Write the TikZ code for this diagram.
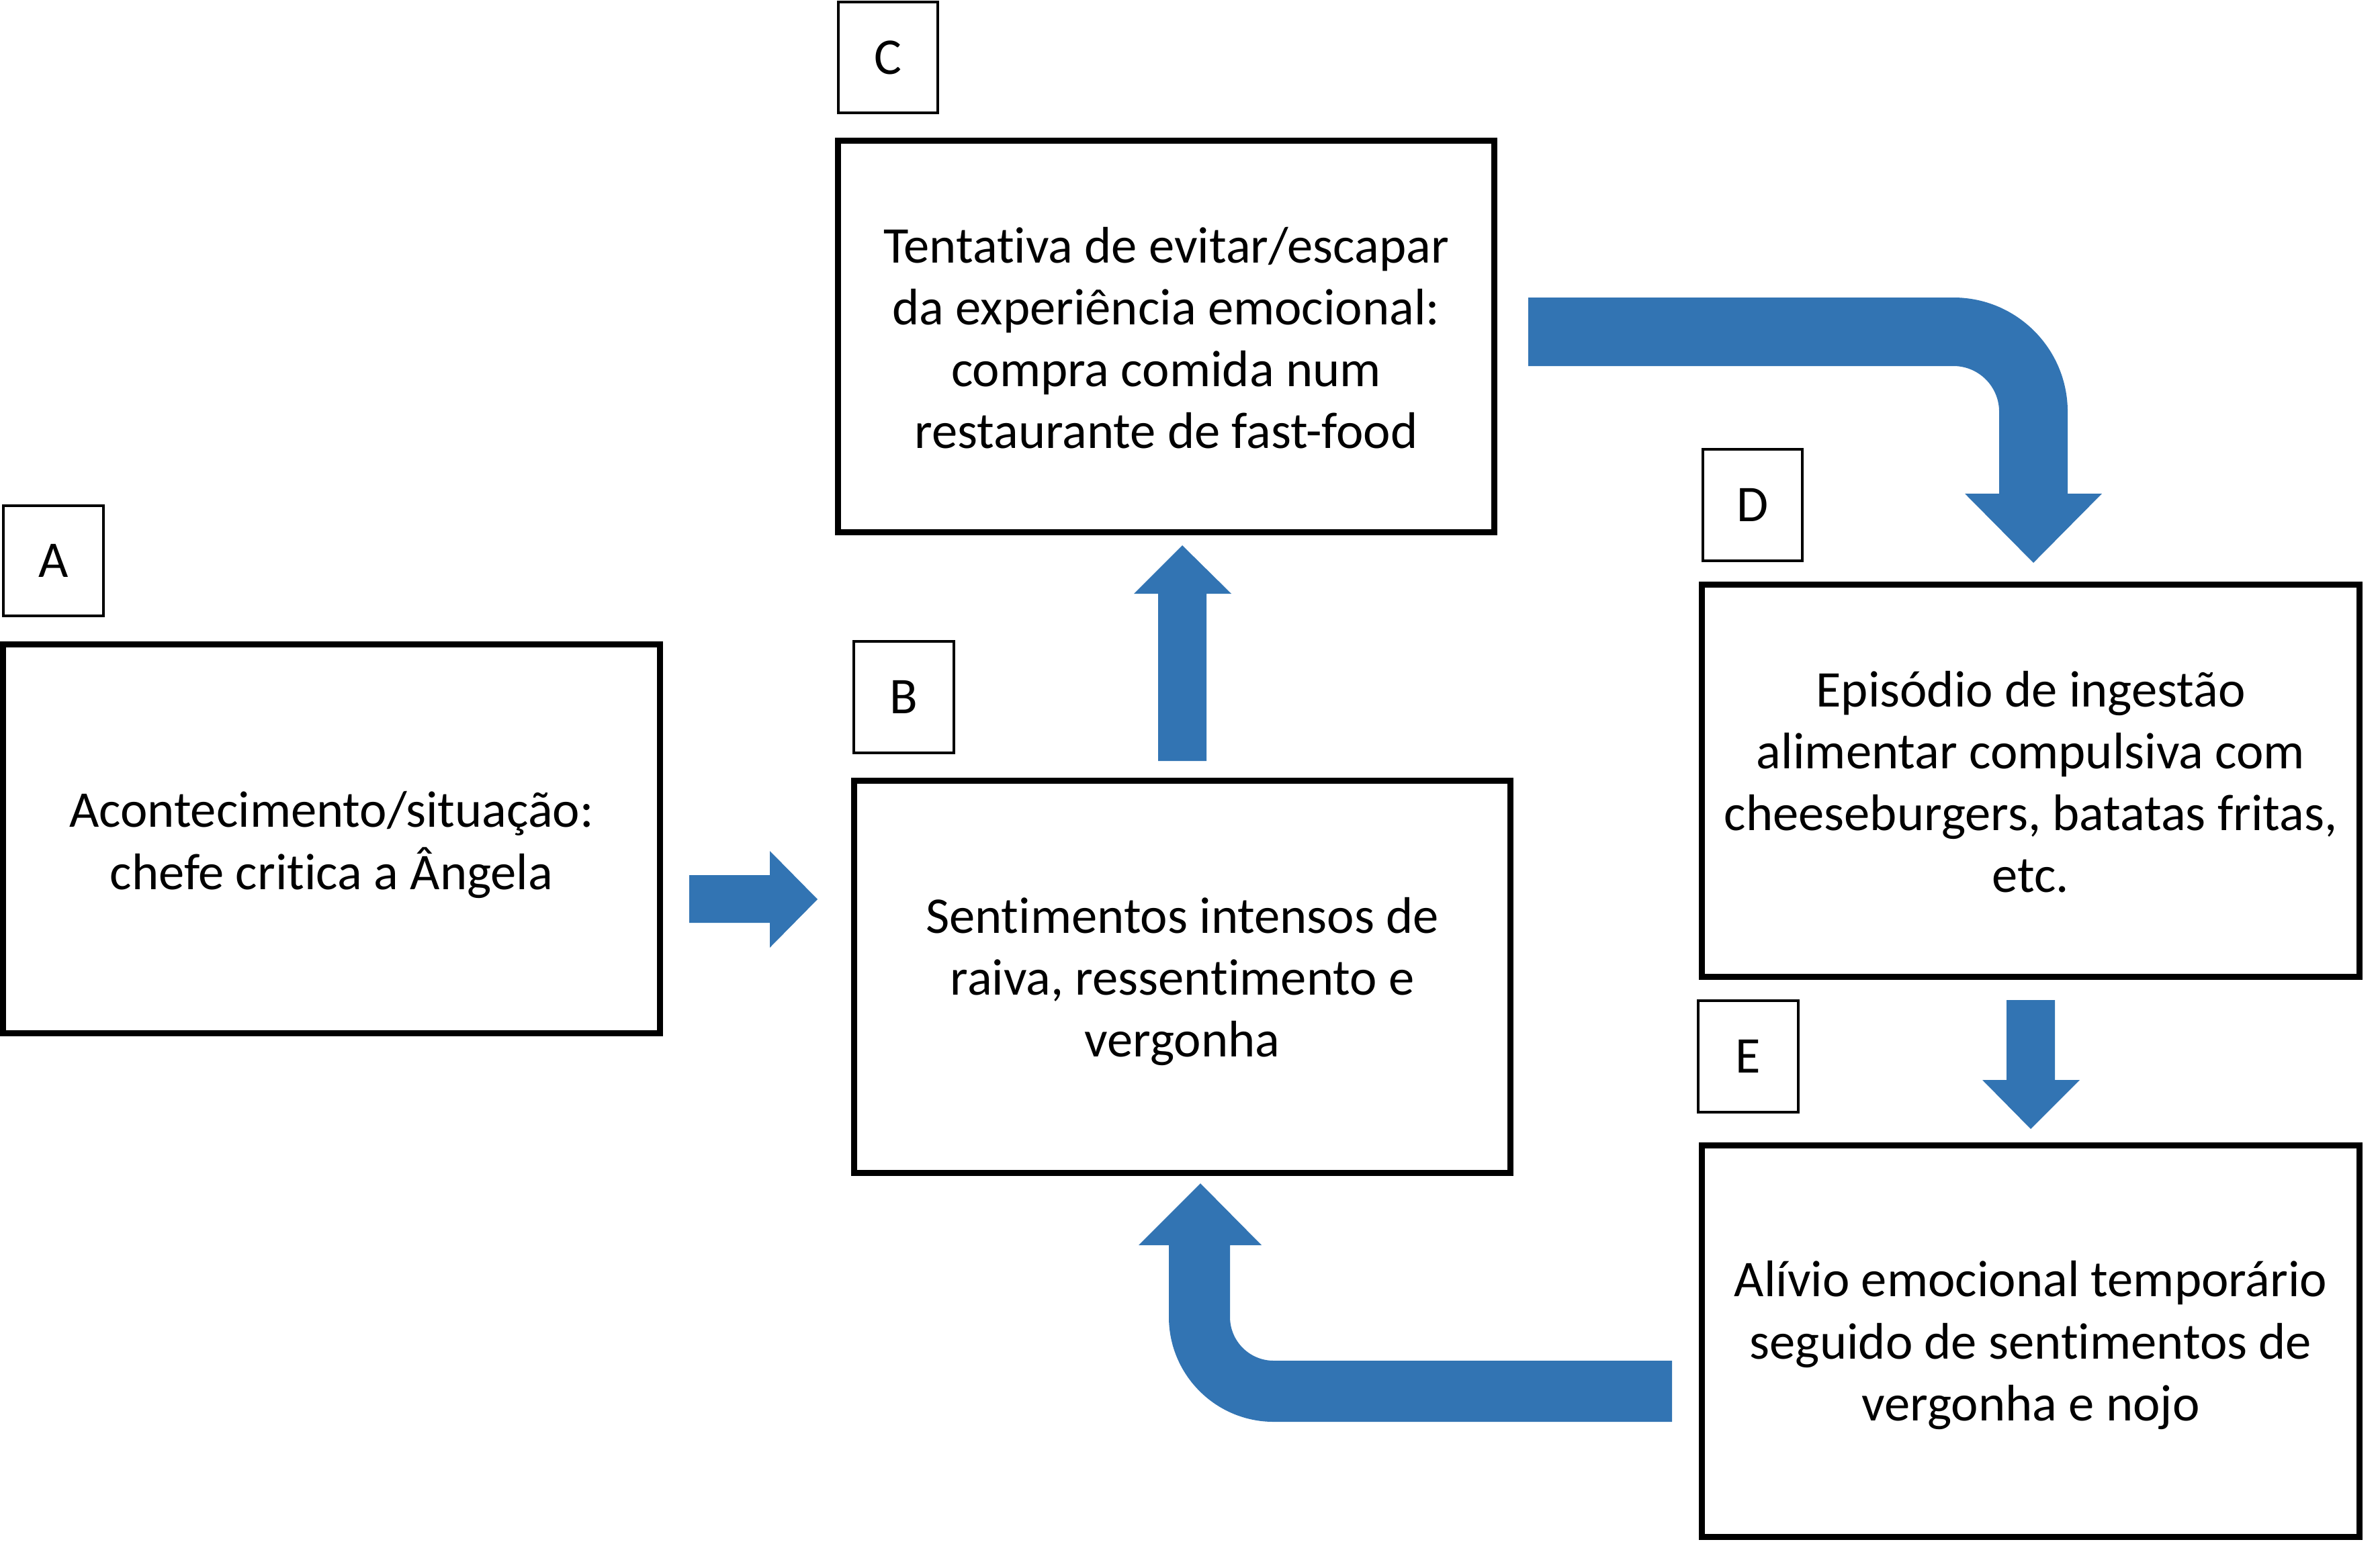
\documentclass[tikz,border=0pt]{standalone}
\usepackage{fontspec}
\setmainfont{Carlito}[Ligatures=NoCommon]
\definecolor{arrowblue}{RGB}{50,116,179}
\begin{document}
\begin{tikzpicture}[
  mainbox/.style={draw=black, line width=0.09cm, fill=white, inner sep=0pt},
  boxtext/.style={align=center, inner sep=0pt, font=\fontsize{21.8}{26.2}\selectfont},
  tagbox/.style={draw=black, line width=0.04cm, fill=white, inner sep=0pt,
    font=\fontsize{21.8}{26.2}\selectfont},
  blockarrow/.style={fill=arrowblue, draw=none}
]
\useasboundingbox (0,0) rectangle (35.43,-22.95);
% main boxes
\node[mainbox, minimum width=9.78cm, minimum height=5.79cm] (A) at (4.935,-12.49) {};
\node[mainbox, minimum width=9.77cm, minimum height=5.84cm] (B) at (17.60,-14.545) {};
\node[mainbox, minimum width=9.77cm, minimum height=5.83cm] (C) at (17.36,-5.01) {};
\node[mainbox, minimum width=9.79cm, minimum height=5.84cm] (D) at (30.23,-11.625) {};
\node[mainbox, minimum width=9.79cm, minimum height=5.83cm] (E) at (30.23,-19.97) {};
% texts
\node[boxtext, yshift=-0.09cm] (Atext) at (A) {Acontecimento/situação:\\chefe critica a Ângela};
\node[boxtext, yshift=-0.07cm] (Btext) at (B) {Sentimentos intensos de\\raiva, ressentimento e\\vergonha};
\node[boxtext, yshift=-0.02cm] (Ctext) at (C) {Tentativa de evitar/escapar\\da experiência emocional:\\compra comida num\\restaurante de fast-food};
\node[boxtext, yshift=-0.02cm] (Dtext) at (D) {Episódio de ingestão\\alimentar compulsiva com\\cheeseburgers, batatas fritas,\\etc.};
\node[boxtext, yshift=-0.06cm] (Etext) at (E) {Alívio emocional temporário\\seguido de sentimentos de\\vergonha e nojo};
% tag boxes
\node[tagbox, minimum width=1.49cm, minimum height=1.64cm] (tA) at (0.795,-8.35) {A};
\node[tagbox, minimum width=1.49cm, minimum height=1.66cm] (tB) at (13.455,-10.38) {B};
\node[tagbox, minimum width=1.48cm, minimum height=1.65cm] (tC) at (13.22,-0.855) {C};
\node[tagbox, minimum width=1.48cm, minimum height=1.66cm] (tD) at (26.09,-7.52) {D};
\node[tagbox, minimum width=1.49cm, minimum height=1.66cm] (tE) at (26.025,-15.73) {E};
% A -> B
\fill[blockarrow] (10.26,-13.03) -- (11.46,-13.03) -- (11.46,-12.67) -- (12.17,-13.39)
  -- (11.46,-14.11) -- (11.46,-13.74) -- (10.26,-13.74) -- cycle;
% B -> C
\fill[blockarrow] (17.24,-11.33) -- (17.24,-8.84) -- (16.88,-8.84) -- (17.60,-8.12)
  -- (18.33,-8.84) -- (17.96,-8.84) -- (17.96,-11.33) -- cycle;
% C -> D (bent)
\fill[blockarrow] (22.75,-4.43) -- (29.08,-4.43) arc[start angle=90, end angle=0, radius=1.70]
  -- (30.78,-7.35) -- (31.29,-7.35) -- (30.27,-8.38) -- (29.25,-7.35) -- (29.76,-7.35)
  -- (29.76,-6.13) arc[start angle=0, end angle=90, radius=0.68] -- (22.75,-5.45) -- cycle;
% D -> E
\fill[blockarrow] (29.87,-14.89) -- (30.59,-14.89) -- (30.59,-16.08) -- (30.96,-16.08)
  -- (30.23,-16.81) -- (29.51,-16.08) -- (29.87,-16.08) -- cycle;
% E -> B (bent)
\fill[blockarrow] (24.89,-20.26) -- (18.96,-20.26) arc[start angle=270, end angle=180, radius=0.65]
  -- (18.31,-18.54) -- (18.78,-18.54) -- (17.87,-17.62) -- (16.95,-18.54) -- (17.40,-18.54)
  -- (17.40,-19.61) arc[start angle=180, end angle=270, radius=1.56] -- (24.89,-21.17) -- cycle;
\end{tikzpicture}
\end{document}
